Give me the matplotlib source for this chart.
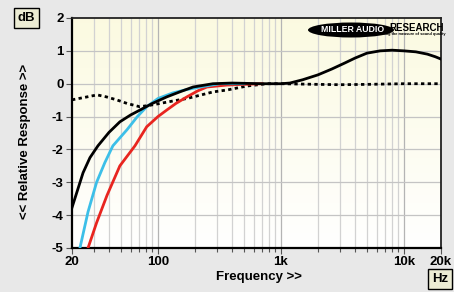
import matplotlib
matplotlib.use('Agg')
import matplotlib.pyplot as plt
from matplotlib.patches import Ellipse
import numpy as np

plt.rcParams['font.family'] = ['Liberation Sans', 'DejaVu Sans']

# response curves (Hz, dB)
black_f = [20, 24.6, 28, 32.5, 40, 49, 60, 71.5, 90, 118, 150, 193, 280, 400, 700, 1000, 1180, 1500, 2000, 2600, 3300, 4000, 5000, 6400, 8000, 10000, 12500, 15500, 18000, 20000]
black_db = [-3.77, -2.71, -2.25, -1.89, -1.48, -1.16, -0.95, -0.8, -0.6, -0.4, -0.25, -0.1, 0.0, 0.02, 0.0, 0.0, 0.02, 0.12, 0.27, 0.45, 0.63, 0.78, 0.93, 1.0, 1.02, 1.0, 0.97, 0.9, 0.82, 0.75]

cyan_f = [23.2, 27, 31.7, 37, 43, 56, 68, 81, 100, 132, 170, 220, 320, 500]
cyan_db = [-5.0, -3.9, -3.0, -2.4, -1.89, -1.4, -1.0, -0.7, -0.45, -0.28, -0.18, -0.1, 0.0, 0.0]

red_f = [27, 31.7, 38.5, 49, 65, 81, 100, 118, 140, 172, 210, 250, 365, 500, 700]
red_db = [-5.0, -4.23, -3.4, -2.5, -1.89, -1.31, -1.0, -0.8, -0.6, -0.4, -0.22, -0.1, -0.04, -0.02, 0.0]

dot_f = [20, 25, 32, 38, 46, 56, 71, 85, 104, 135, 172, 220, 280, 366, 530, 770, 1000, 2000, 3000, 5000, 10000, 20000]
dot_db = [-0.49, -0.42, -0.34, -0.4, -0.49, -0.6, -0.7, -0.66, -0.6, -0.52, -0.45, -0.35, -0.25, -0.19, -0.07, 0.0, 0.0, -0.02, -0.03, -0.02, 0.0, 0.0]

yticks = [2, 1, 0, -1, -2, -3, -4, -5]
xticks = [20, 100, 1000, 10000, 20000]
xlabels = ['20', '100', '1k', '10k', '20k']

fig = plt.figure(figsize=(4.54, 2.92), dpi=100, facecolor='#e8e8e8')
ax = fig.add_axes([72/454, 1-248/292, 369/454, 230/292])
ax.set_xscale('log')
ax.set_xlim(20, 20000)
ax.set_ylim(-5, 2)

# cream to white background
grad = np.linspace(0, 1, 256).reshape(-1, 1)
cols = np.zeros((256, 1, 3))
top = np.array([0.985, 0.98, 0.88])
bot = np.array([1.0, 1.0, 1.0])
cols[:, 0, :] = top * grad + bot * (1 - grad)
ax.imshow(cols, aspect='auto', extent=[0, 1, 0, 1], transform=ax.transAxes, origin='lower', zorder=0)

# grid
for dec in [10, 100, 1000, 10000]:
    for m in range(1, 10):
        f = dec * m
        if 20 < f < 20000:
            c = '#b4b4b4' if m == 1 else '#d2d2d2'
            ax.axvline(f, color=c, lw=0.9, zorder=1)
for y in yticks[1:-1]:
    ax.axhline(y, color='#c4c4c4', lw=0.9, zorder=1)

ax.plot(dot_f, dot_db, color='black', lw=2, linestyle=(0, (1.2, 1.2)), zorder=3)
ax.plot(red_f, red_db, color='#e8251f', lw=2, zorder=4)
ax.plot(cyan_f, cyan_db, color='#3cbfe8', lw=2, zorder=5)
ax.plot(black_f, black_db, color='black', lw=2, zorder=6)

ax.set_yticks(yticks)
ax.set_yticklabels([str(v) for v in yticks])
ax.set_xticks(xticks)
ax.set_xticklabels(xlabels)
ax.set_xticks([f * d for d in [10, 100, 1000] for f in range(2, 10) if 20 < f * d < 20000 and f * d != 20], minor=True)
ax.tick_params(axis='both', which='major', direction='out', length=4, width=0.8, color='#555555',
               labelsize=9.5, pad=2)
ax.tick_params(axis='x', which='minor', direction='out', length=3, width=0.8, color='#555555', labelbottom=False)
for lab in ax.get_xticklabels() + ax.get_yticklabels():
    lab.set_fontweight('bold')
for s in ax.spines.values():
    s.set_color('#222222')
    s.set_linewidth(1.3)
ax.spines['left'].set_color('black')
ax.spines['bottom'].set_color('black')
ax.spines['left'].set_linewidth(1.6)
ax.spines['bottom'].set_linewidth(1.6)

fig.text(259/454, 1-277/292, 'Frequency >>', ha='center', va='center', fontsize=9.5, fontweight='bold')
fig.text(25/454, 1-141/292, '<< Relative Response >>', ha='center', va='center', rotation=90,
         fontsize=9.5, fontweight='bold')
box = dict(boxstyle='square,pad=0.3', facecolor='#ececd4', edgecolor='black', lw=1)
fig.text(26.5/454, 1-18/292, 'dB', ha='center', va='center', fontsize=9.5, fontweight='bold', bbox=box)
fig.text(440/454, 1-279/292, 'Hz', ha='center', va='center', fontsize=9.5, fontweight='bold', bbox=box)

# logo
lx = (351 - 72) / 369
ly = 1 - (30 - 18) / 230
ax.add_patch(Ellipse((lx, ly), 86/369, 15/230, transform=ax.transAxes, facecolor='black', zorder=7))
ax.text(lx + 0.004, ly, 'MILLER AUDIO', transform=ax.transAxes, ha='center', va='center', color='white',
        fontsize=6.3, fontweight='bold', zorder=8)
ax.text((417 - 72) / 369, 1 - (28 - 18) / 230, 'RESEARCH', transform=ax.transAxes, ha='center', va='center',
        color='black', fontsize=7, fontweight='bold', zorder=8)
ax.text((411 - 72) / 369, 1 - (34.5 - 18) / 230, 'Getting the measure of sound quality', transform=ax.transAxes,
        ha='center', va='center', color='black', fontsize=2.8, fontweight='bold', zorder=8)

fig.savefig('out.png', dpi=100, facecolor=fig.get_facecolor())
